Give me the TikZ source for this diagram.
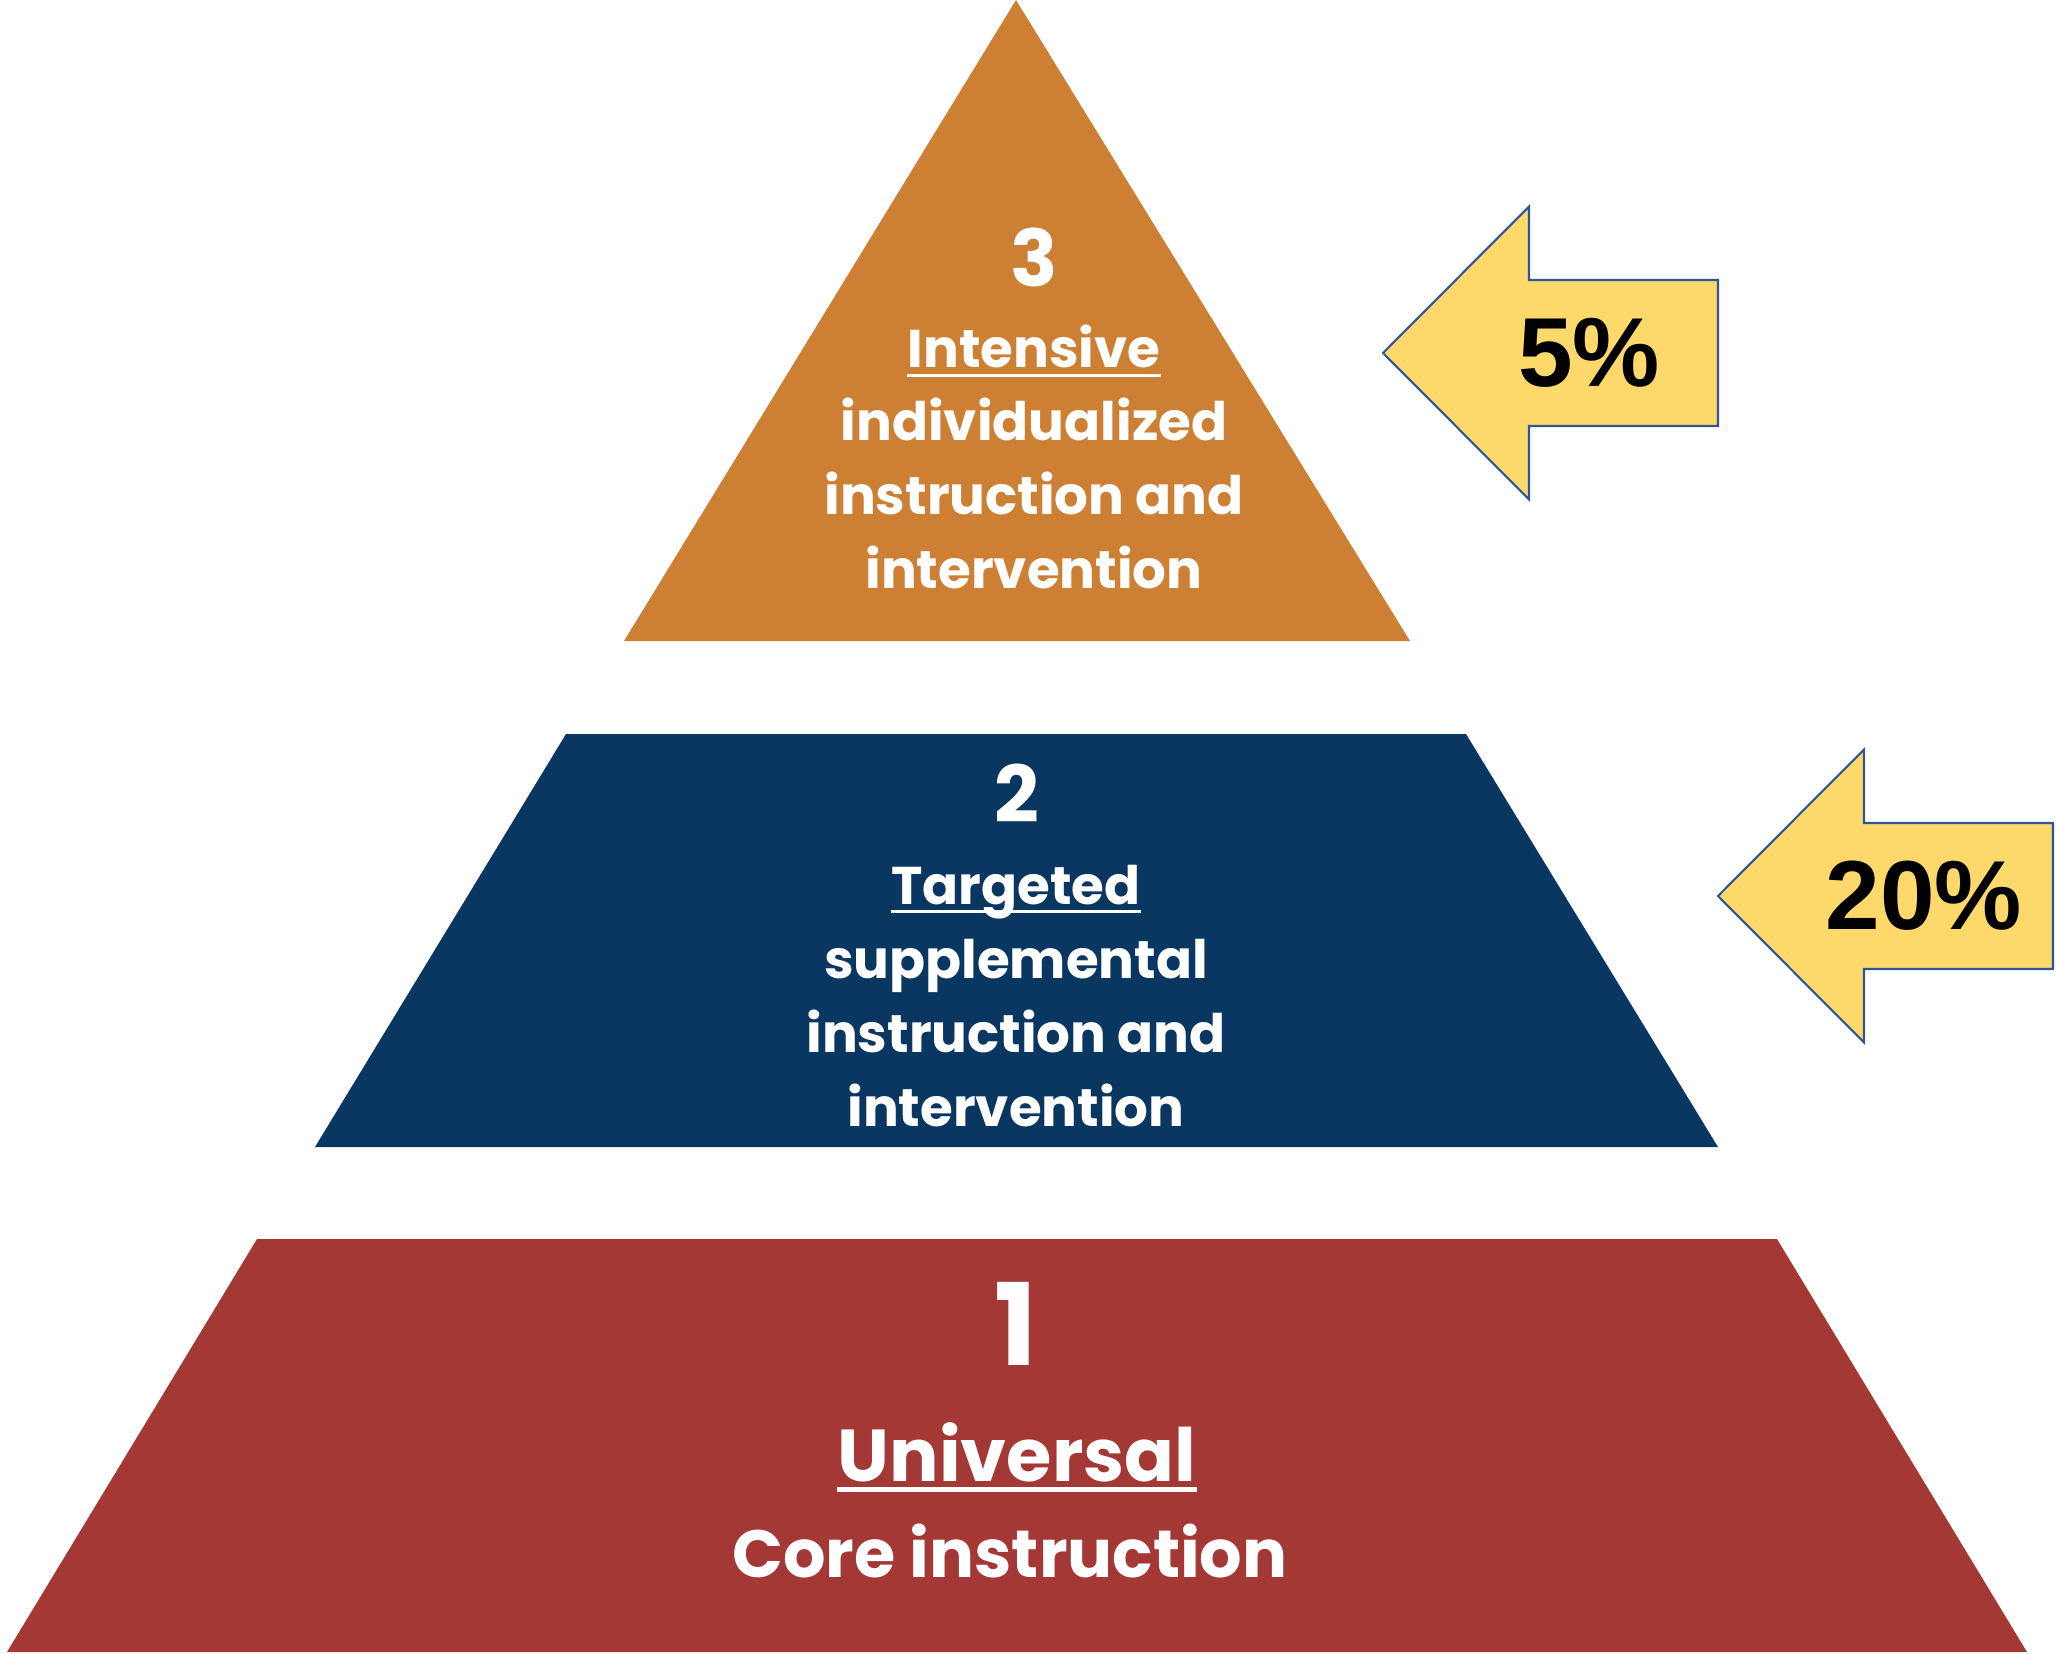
\documentclass[tikz,border=0pt]{standalone}
\usepackage{fontspec}
\setmainfont{Poppins}
\newfontfamily\pctfont{Liberation Sans}
\usepackage{xcolor}
\definecolor{tierthree}{HTML}{CD8033}
\definecolor{tiertwo}{HTML}{093762}
\definecolor{tierone}{HTML}{A33835}
\definecolor{arrowfill}{HTML}{FDD86A}
\definecolor{arrowline}{HTML}{2F5597}

\tikzset{
  tiernum/.style={anchor=base, inner sep=0pt, text=white, font=\bfseries\fontsize{22.3}{22.3}\selectfont},
  tiertext/.style={anchor=base, inner sep=0pt, text=white, font=\bfseries\fontsize{15.1}{15.1}\selectfont},
  uline/.style={white, line width=0.85pt},
  pctbox/.style={fill=arrowfill, draw=arrowline, line width=0.6pt, line join=miter},
  pct/.style={inner sep=0pt, font=\pctfont\bfseries\fontsize{27.9}{27.9}\selectfont}
}

\begin{document}
\begin{tikzpicture}[x=0.01cm, y=-0.01cm]
  \useasboundingbox (0,0) rectangle (2056,1654);

  % Tier 3: top triangle
  \fill[tierthree] (1016,0) -- (1410,641) -- (624,641) -- cycle;
  % Tier 2: middle band
  \fill[tiertwo] (566,734) -- (1466,734) -- (1718,1147) -- (315,1147) -- cycle;
  % Tier 1: bottom band
  \fill[tierone] (257,1239) -- (1777,1239) -- (2027,1652) -- (7,1652) -- cycle;

  % Tier numbers
  \node[tiernum] (n3) at (1034,286) {3};
  \node[tiernum] (n2) at (1017,822) {2};
  \node[tiernum, font=\bfseries\fontsize{32.4}{32.4}\selectfont] (n1) at (1016,1365) {1};

  % Tier texts, one line at a time
  \foreach \txt [count=\k] in {Intensive, individualized, instruction and, intervention}
    \node[tiertext] (t3-\k) at (1034,{367+73.7*(\k-1)}) {\txt};
  \foreach \txt [count=\k] in {Targeted, supplemental, instruction and, intervention}
    \node[tiertext] (t2-\k) at (1016,{904+74*(\k-1)}) {\txt};
  \node[tiertext, font=\bfseries\fontsize{20.9}{20.9}\selectfont] (t1-1) at (1017,1481) {Universal};
  \node[tiertext, font=\bfseries\fontsize{19}{19}\selectfont] (t1-2) at (1010,1577) {Core instruction};

  % Underlines under the tier names
  \foreach \n/\d/\w in {t3-1/2.4pt/0.85pt, t2-1/2pt/0.85pt, t1-1/2.3pt/1.4pt}
    \draw[uline, line width=\w] ([yshift=-\d]\n.base west) -- ([yshift=-\d]\n.base east);

  % Share arrows
  \foreach \name/\x/\y/\pc in {a3/1383/353/5\%, a2/1718/896/20\%} {
    \draw[pctbox] (\x,\y) -- ++(146,-146.5) -- ++(0,73.5) -- ++(189,0) -- ++(0,146)
      -- ++(-189,0) -- ++(0,73.5) -- cycle;
    \node[pct] (\name) at (\x+206,\y) {\pc};
  }
\end{tikzpicture}
\end{document}
